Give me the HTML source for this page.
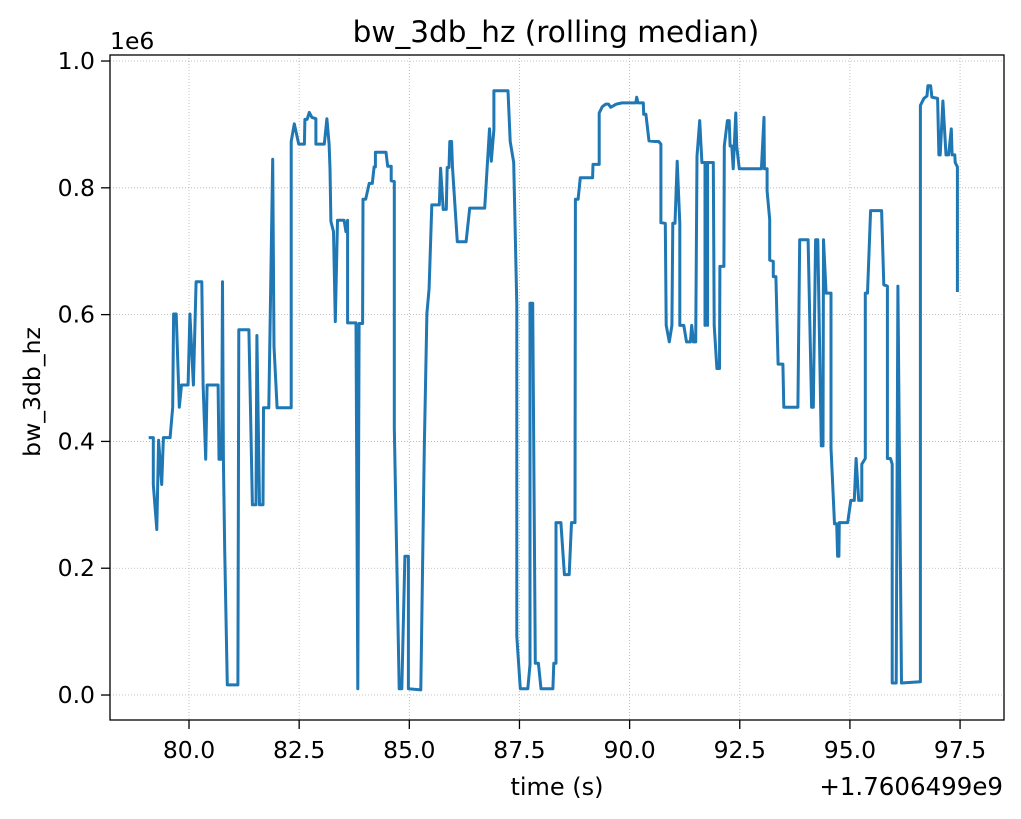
<!DOCTYPE html>
<html><head><meta charset="utf-8"><style>
body{margin:0;background:#fff;}
svg text{font-family:"DejaVu Sans","Liberation Sans",sans-serif;fill:#000;}
</style></head><body>
<svg id="chart" width="1021" height="814" xmlns="http://www.w3.org/2000/svg">
<rect x="0" y="0" width="1021" height="814" fill="#fff"/>
<g id="grid"></g>
<g id="series"></g>
<rect x="110" y="55" width="894" height="665" fill="none" stroke="#000" stroke-width="1.3"/>
<g id="axes"></g>
<text x="556" y="42" font-size="29.5" text-anchor="middle">bw_3db_hz (rolling median)</text>
<text x="557" y="795" font-size="24" text-anchor="middle">time (s)</text>
<text x="1003" y="795" font-size="24.5" text-anchor="end">+1.7606499e9</text>
<text x="110" y="49" font-size="23.5">1e6</text>
<text transform="translate(40,392) rotate(-90)" font-size="23.5" text-anchor="middle">bw_3db_hz</text>
</svg>
<script>
const xTicks=[80,82.5,85,87.5,90,92.5,95,97.5];
const xTickLabels=["80.0","82.5","85.0","87.5","90.0","92.5","95.0","97.5"];
const yTicks=[0,0.2,0.4,0.6,0.8,1.0];
const yTickLabels=["0.0","0.2","0.4","0.6","0.8","1.0"];
const times=[79.12,79.19,79.19,79.27,79.31,79.38,79.42,79.57,79.63,79.65,79.71,79.78,79.83,79.98,80.02,80.1,80.16,80.29,80.32,80.38,80.41,80.66,80.68,80.74,80.76,80.78,80.81,80.87,81.11,81.13,81.36,81.44,81.52,81.54,81.6,81.68,81.69,81.81,81.9,81.93,82.0,82.32,82.32,82.39,82.49,82.62,82.63,82.68,82.73,82.79,82.88,82.88,83.07,83.13,83.18,83.2,83.22,83.28,83.32,83.37,83.52,83.56,83.6,83.6,83.79,83.83,83.86,83.94,83.95,84.01,84.09,84.16,84.2,84.23,84.23,84.47,84.51,84.59,84.59,84.66,84.66,84.77,84.83,84.9,84.98,84.98,85.26,85.34,85.4,85.45,85.51,85.68,85.71,85.77,85.84,85.86,85.9,85.92,85.96,85.98,86.09,86.29,86.37,86.71,86.82,86.86,86.92,86.92,87.24,87.29,87.37,87.44,87.44,87.52,87.69,87.74,87.74,87.8,87.86,87.93,87.99,88.26,88.28,88.33,88.33,88.44,88.52,88.63,88.68,88.76,88.77,88.83,88.88,89.16,89.17,89.31,89.31,89.38,89.46,89.52,89.57,89.7,89.83,90.14,90.16,90.19,90.31,90.32,90.37,90.44,90.57,90.66,90.71,90.71,90.81,90.83,90.9,90.96,90.98,91.03,91.08,91.14,91.14,91.23,91.29,91.38,91.41,91.45,91.5,91.53,91.59,91.64,91.71,91.71,91.74,91.77,91.77,91.9,91.92,91.98,92.04,92.05,92.14,92.15,92.22,92.26,92.28,92.32,92.35,92.41,92.43,92.49,92.99,93.05,93.06,93.12,93.12,93.18,93.18,93.26,93.26,93.32,93.37,93.48,93.5,93.82,93.86,94.05,94.13,94.17,94.22,94.27,94.35,94.39,94.4,94.46,94.57,94.57,94.65,94.7,94.72,94.75,94.76,94.95,95.02,95.1,95.14,95.2,95.27,95.27,95.35,95.35,95.4,95.47,95.72,95.77,95.85,95.85,95.92,95.96,95.96,96.05,96.09,96.17,96.6,96.6,96.68,96.75,96.77,96.83,96.86,96.99,97.02,97.05,97.11,97.18,97.24,97.3,97.32,97.38,97.39,97.44,97.44];
const values=[0.406,0.406,0.332,0.261,0.402,0.332,0.406,0.406,0.454,0.601,0.601,0.454,0.489,0.489,0.601,0.489,0.652,0.652,0.489,0.372,0.489,0.489,0.372,0.372,0.652,0.372,0.229,0.016,0.016,0.576,0.576,0.3,0.3,0.567,0.3,0.3,0.453,0.453,0.845,0.55,0.453,0.453,0.873,0.901,0.869,0.869,0.908,0.908,0.919,0.911,0.909,0.869,0.869,0.909,0.869,0.83,0.747,0.731,0.589,0.749,0.749,0.731,0.749,0.587,0.587,0.01,0.586,0.586,0.782,0.782,0.807,0.807,0.833,0.833,0.856,0.856,0.834,0.834,0.811,0.81,0.422,0.01,0.01,0.219,0.219,0.01,0.008,0.39,0.602,0.641,0.773,0.773,0.831,0.766,0.766,0.832,0.832,0.873,0.873,0.832,0.715,0.715,0.768,0.768,0.893,0.842,0.892,0.953,0.953,0.873,0.84,0.615,0.093,0.01,0.01,0.048,0.618,0.618,0.05,0.05,0.01,0.01,0.05,0.05,0.272,0.272,0.19,0.19,0.272,0.272,0.782,0.782,0.816,0.816,0.837,0.837,0.918,0.928,0.932,0.932,0.927,0.932,0.934,0.934,0.943,0.934,0.934,0.916,0.916,0.874,0.873,0.873,0.869,0.745,0.744,0.583,0.557,0.583,0.744,0.744,0.842,0.744,0.583,0.583,0.557,0.557,0.583,0.557,0.557,0.85,0.906,0.84,0.84,0.583,0.84,0.583,0.84,0.84,0.583,0.515,0.515,0.676,0.676,0.866,0.906,0.906,0.866,0.866,0.83,0.918,0.866,0.83,0.83,0.911,0.83,0.83,0.795,0.75,0.686,0.684,0.66,0.66,0.522,0.522,0.454,0.454,0.718,0.718,0.454,0.454,0.718,0.718,0.393,0.393,0.718,0.634,0.634,0.39,0.27,0.27,0.219,0.219,0.272,0.272,0.307,0.307,0.373,0.307,0.307,0.364,0.373,0.634,0.634,0.764,0.764,0.647,0.645,0.373,0.373,0.364,0.019,0.019,0.645,0.019,0.021,0.93,0.941,0.945,0.961,0.961,0.943,0.941,0.852,0.852,0.937,0.852,0.852,0.893,0.852,0.852,0.84,0.833,0.638];
const NS='http://www.w3.org/2000/svg';
const L=110,R=1004,T=55,B=720;
const x0=78.207,x1=98.497,y0=-0.0394,y1=1.0095;
function xs(t){return L+(t-x0)/(x1-x0)*(R-L);}
function ys(v){return B-(v-y0)/(y1-y0)*(B-T);}
function mk(tag,attrs,parent){const e=document.createElementNS(NS,tag);for(const k in attrs)e.setAttribute(k,attrs[k]);parent.appendChild(e);return e;}
const grid=document.getElementById('grid'),axes=document.getElementById('axes'),ser=document.getElementById('series');
xTicks.forEach((t,i)=>{
  const gx=xs(t);
  const gl=mk('line',{x1:gx,x2:gx,y1:T,y2:B,stroke:'#b0b0b0','stroke-width':0.8,'stroke-dasharray':'1,2'},grid);
  
  
  const tk=mk('line',{x1:gx,x2:gx,y1:B,y2:B+9,stroke:'#000','stroke-width':1.3},axes);
  
  
  const tx=mk('text',{x:gx,y:B+38,'font-size':23.5,'text-anchor':'middle'},axes);
  tx.textContent=xTickLabels[i];
  
  
});
yTicks.forEach((v,i)=>{
  const gy=ys(v);
  const gl=mk('line',{x1:L,x2:R,y1:gy,y2:gy,stroke:'#b0b0b0','stroke-width':0.8,'stroke-dasharray':'1,2'},grid);
  
  
  const tk=mk('line',{x1:L-9,x2:L,y1:gy,y2:gy,stroke:'#000','stroke-width':1.3},axes);
  
  
  const tx=mk('text',{x:L-15,y:gy+8,'font-size':23.5,'text-anchor':'end'},axes);
  tx.textContent=yTickLabels[i];
  
  
});
const pts=times.map((t,i)=>xs(t).toFixed(1)+','+ys(values[i]).toFixed(1)).join(' ');
const pl=mk('polyline',{points:pts,fill:'none',stroke:'#1f77b4','stroke-width':3,'stroke-linejoin':'round','stroke-linecap':'square'},ser);


</script>
</body></html>
